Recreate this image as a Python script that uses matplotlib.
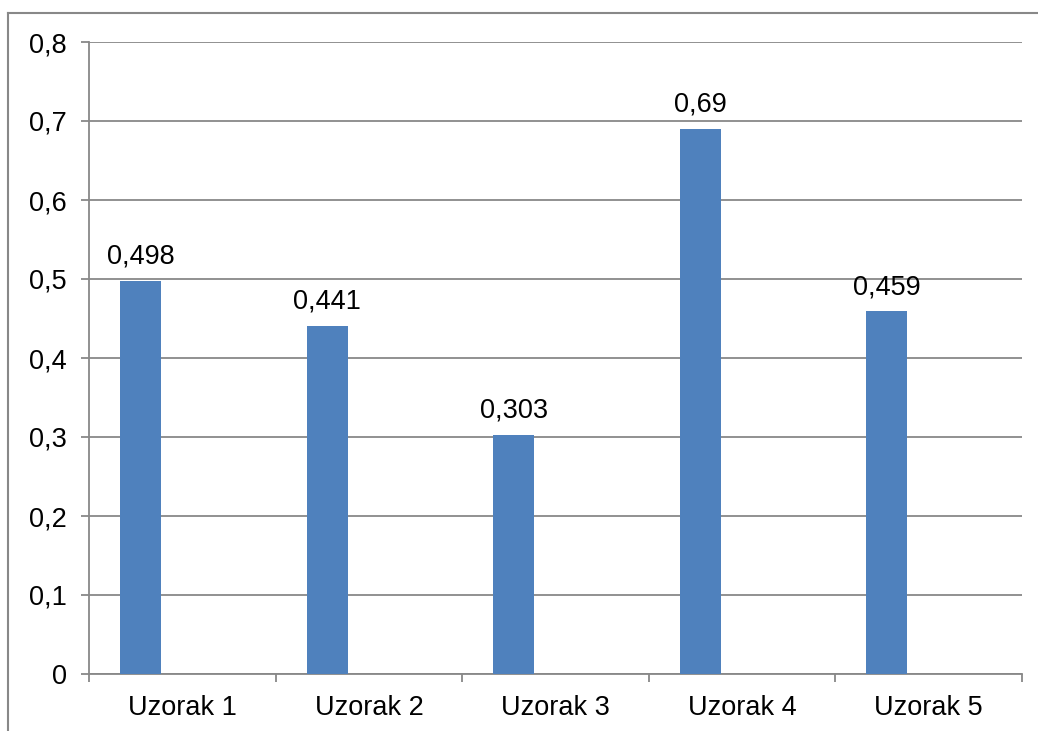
import matplotlib
matplotlib.use("Agg")
import matplotlib.pyplot as plt
from matplotlib.lines import Line2D
import numpy as np

categories = ["Uzorak 1", "Uzorak 2", "Uzorak 3", "Uzorak 4", "Uzorak 5"]
values = [0.498, 0.441, 0.303, 0.69, 0.459]
value_labels = ["0,498", "0,441", "0,303", "0,69", "0,459"]
yticks = [0, 0.1, 0.2, 0.3, 0.4, 0.5, 0.6, 0.7, 0.8]
ytick_labels = ["0", "0,1", "0,2", "0,3", "0,4", "0,5", "0,6", "0,7", "0,8"]

plt.rcParams['font.family'] = ['Liberation Sans', 'DejaVu Sans']
grey = '#888888'
bar_color = '#4F81BD'
fs = 19.5

fig = plt.figure(figsize=(10.38, 7.31), dpi=100)
ax = fig.add_axes([89 / 1038, 57 / 731, 933 / 1038, 632 / 731])

x = np.arange(len(categories))
ax.bar(x - 0.224, values, width=0.22, color=bar_color, zorder=3)
for xi, v, lab in zip(x, values, value_labels):
    ax.annotate(lab, (xi - 0.224, v), xytext=(0, 8), textcoords='offset points',
                ha='center', va='bottom', fontsize=fs)

ax.set_xlim(-0.5, len(categories) - 0.5)
ax.set_ylim(0, 0.8)
ax.set_yticks(yticks)
ax.set_yticklabels(ytick_labels)
ax.yaxis.grid(True, color=grey, linewidth=1.3, zorder=0)

# category boundaries as major ticks, names on minor ticks
ax.set_xticks(np.arange(len(categories) + 1) - 0.5)
ax.set_xticklabels([])
ax.set_xticks(x, minor=True)
ax.set_xticklabels(categories, minor=True)
ax.tick_params(axis='x', which='major', length=6, width=1.3, color=grey, direction='out')
ax.tick_params(axis='x', which='minor', length=0, pad=15, labelsize=fs)
ax.tick_params(axis='y', length=6, width=1.3, color=grey, direction='out', pad=10, labelsize=fs)

for s in ['top', 'right']:
    ax.spines[s].set_visible(False)
for s in ['left', 'bottom']:
    ax.spines[s].set_color(grey)
    ax.spines[s].set_linewidth(1.3)

# outer chart frame (top and left edges visible)
fig.add_artist(Line2D([8 / 1038, 1.0], [1 - 13 / 731, 1 - 13 / 731], color=grey, linewidth=1.5))
fig.add_artist(Line2D([8 / 1038, 8 / 1038], [0.0, 1 - 13 / 731], color=grey, linewidth=1.5))

fig.savefig("out.png", dpi=100)
